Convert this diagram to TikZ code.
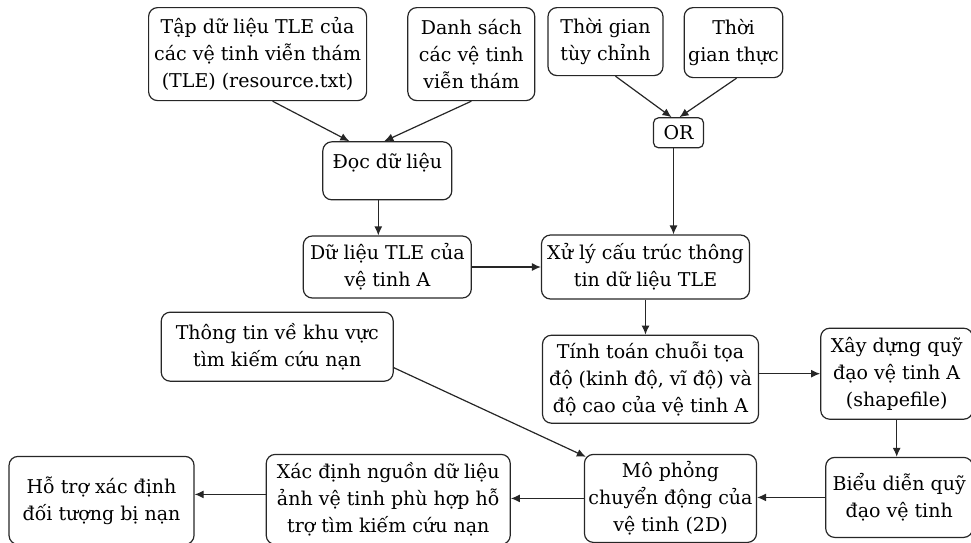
\documentclass[tikz,border=0pt]{standalone}
\usepackage{fontspec}
\setmainfont{DejaVu Serif}
\usepackage{tikz}
\usetikzlibrary{positioning,arrows.meta}

\begin{document}
\begin{tikzpicture}[font=\fontsize{19}{27}\selectfont, >={Latex[length=9pt,width=8pt]}]

\tikzstyle{procbox} = [draw=black!85, line width=1.2pt, rounded corners=9pt, align=center, inner xsep=4pt, inner ysep=3pt]
\tikzstyle{orstyle} = [procbox, rounded corners=5pt, inner sep=2pt, font=\fontsize{19}{22}\selectfont]
\tikzstyle{flow} = [->, line width=1.2pt, black!85]

\useasboundingbox (0,0) rectangle (971pt,-542pt);

\node[procbox, minimum width=218pt, minimum height=93pt, anchor=north west] (tapdl) at (148pt,-7pt) {Tập dữ liệu TLE của\\các vệ tinh viễn thám\\(TLE) (resource.txt)};
\node[procbox, minimum width=127pt, minimum height=93pt, right=40pt of tapdl.north east, anchor=north west] (dsach) {Danh sách\\các vệ tinh\\viễn thám};
\node[procbox, minimum width=115pt, minimum height=68pt, right=12pt of dsach.north east, anchor=north west] (tgtc) {Thời gian\\tùy chỉnh};
\node[procbox, minimum width=98pt, minimum height=70pt, right=20pt of tgtc.north east, anchor=north west] (tgthuc) {Thời\\gian thực};

\node[procbox, minimum width=129pt, text height=24pt, text depth=28pt, below=40pt of tapdl.south east, anchor=north west, xshift=-45pt] (docdl) {Đọc dữ liệu};
\node[procbox, minimum width=168pt, minimum height=62pt, below=35pt of docdl] (dltle) {Dữ liệu TLE của\\vệ tinh A};
\node[procbox, minimum width=208pt, minimum height=64pt, right=69pt of dltle] (xuly) {Xử lý cấu trúc thông\\tin dữ liệu TLE};
\node[orstyle, minimum width=50pt, minimum height=30pt, above=86pt of xuly, xshift=33pt] (orbox) {OR};

\node[procbox, minimum width=216pt, minimum height=88pt, below=35pt of xuly, xshift=5pt] (tinhtoan) {Tính toán chuỗi tọa\\độ (kinh độ, vĩ độ) và\\độ cao của vệ tinh A};
\node[procbox, minimum width=152pt, minimum height=91pt, right=61pt of tinhtoan, yshift=5.5pt] (xaydung) {Xây dựng quỹ\\đạo vệ tinh A\\(shapefile)};
\node[procbox, minimum width=147pt, minimum height=80pt, below=37pt of xaydung, xshift=2.5pt] (bieudien) {Biểu diễn quỹ\\đạo vệ tinh};
\node[procbox, minimum width=170pt, minimum height=88pt, left=68pt of bieudien, yshift=-1pt] (mophong) {Mô phỏng\\chuyển động của\\vệ tinh (2D)};
\node[procbox, minimum width=244pt, minimum height=90pt, left=73pt of mophong, yshift=-1pt] (xacdinh) {Xác định nguồn dữ liệu\\ảnh vệ tinh phù hợp hỗ\\trợ tìm kiếm cứu nạn};
\node[procbox, minimum width=185pt, minimum height=88pt, left=71pt of xacdinh, yshift=-1pt] (hotro) {Hỗ trợ xác định\\đối tượng bị nạn};
\node[procbox, minimum width=232pt, minimum height=69pt, above=72pt of xacdinh.north west, anchor=south west, xshift=-105pt] (thongtin) {Thông tin về khu vực\\tìm kiếm cứu nạn};

\draw[flow] ([xshift=15pt]tapdl.south) -- ([xshift=-38pt]docdl.north);
\draw[flow] (dsach.south) -- ([xshift=-3pt]docdl.north);
\draw[flow] ([xshift=10pt]tgtc.south) -- ([xshift=-7pt]orbox.north);
\draw[flow] ([xshift=3pt]tgthuc.south) -- ([xshift=1pt]orbox.north);
\draw[flow] ([xshift=-5pt]orbox.south) -- ([xshift=-5pt]orbox.south |- xuly.north);
\draw[flow] ([xshift=-9pt]docdl.south) -- ([xshift=-9pt]docdl.south |- dltle.north);
\draw[flow] (dltle.east) -- (dltle.east -| xuly.west);
\draw[flow] (xuly.south) -- (xuly.south |- tinhtoan.north);
\draw[flow] (xaydung.west -| tinhtoan.east) -- (xaydung.west);
\draw[flow] (xaydung.south) -- (xaydung.south |- bieudien.north);
\draw[flow] (bieudien.west) -- (bieudien.west -| mophong.east);
\draw[flow] (mophong.west) -- (mophong.west -| xacdinh.east);
\draw[flow] ([yshift=5pt]xacdinh.west) -- ([yshift=5pt]xacdinh.west -| hotro.east);
\draw[flow] ([yshift=-21pt]thongtin.east) -- ([xshift=2pt,yshift=-3pt]mophong.north west);

\end{tikzpicture}
\end{document}
